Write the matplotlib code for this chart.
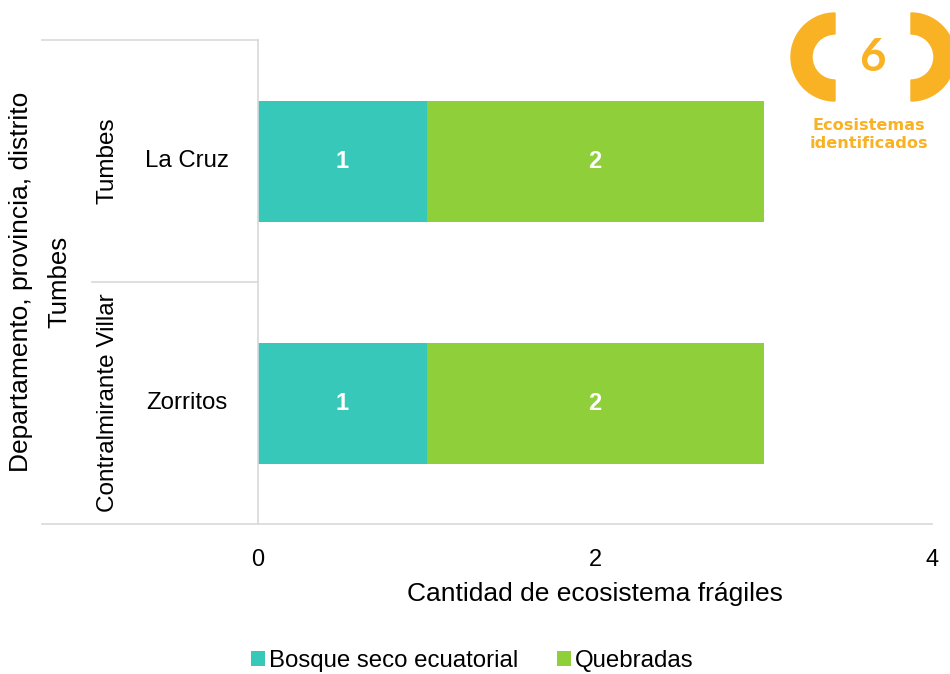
import matplotlib

matplotlib.use("Agg")
import matplotlib.pyplot as plt
from matplotlib.lines import Line2D
from matplotlib.patches import Wedge

plt.rcParams["font.family"] = ["Liberation Sans", "DejaVu Sans"]

districts = ["La Cruz", "Zorritos"]
provinces = ["Tumbes", "Contralmirante Villar"]
department = "Tumbes"
series_names = ["Bosque seco ecuatorial", "Quebradas"]
bosque = [1, 1]
quebradas = [2, 2]
x_ticks = [0, 2, 4]
total_label = "6"

colors = ["#37C8BA", "#8ECF3A"]
grid_col = "#D9D9D9"
logo_col = "#F9B224"

W, H = 950, 674
fig = plt.figure(figsize=(W / 100, H / 100), dpi=100)
ax = fig.add_axes([258 / W, (H - 524) / H, (932 - 258) / W, (524 - 40) / H])

ypos = [1, 0]
ax.barh(ypos, bosque, height=0.5, color=colors[0], label=series_names[0])
ax.barh(ypos, quebradas, left=bosque, height=0.5, color=colors[1], label=series_names[1])

for y, b, q in zip(ypos, bosque, quebradas):
    ax.text(b / 2, y, str(b), ha="center", va="center", color="white", fontsize=17, fontweight="bold")
    ax.text(b + q / 2, y, str(q), ha="center", va="center", color="white", fontsize=17, fontweight="bold")

ax.set_xlim(0, 4)
ax.set_ylim(-0.5, 1.5)
ax.set_xticks(x_ticks)
ax.set_xticklabels([str(t) for t in x_ticks], fontsize=17)
ax.tick_params(axis="x", length=0, pad=18)
ax.set_yticks([])
for side in ["top", "right"]:
    ax.spines[side].set_visible(False)
for side in ["left", "bottom"]:
    ax.spines[side].set_color(grid_col)
    ax.spines[side].set_linewidth(1.2)
ax.set_xlabel("Cantidad de ecosistema frágiles", fontsize=19, labelpad=8)

# hierarchical category labels
tr = ax.get_yaxis_transform()
for y, d, p in zip(ypos, districts, provinces):
    ax.text(-0.105, y, d, transform=tr, ha="center", va="center", fontsize=17.3)
    ax.text(-0.223, y, p, transform=tr, ha="center", va="center", rotation=90, fontsize=17.5)
ax.text(-0.294, 0.5, department, transform=tr, ha="center", va="center", rotation=90, fontsize=18.5)
ax.text(-0.352, 0.5, "Departamento, provincia, distrito", transform=tr, ha="center", va="center",
        rotation=90, fontsize=19)

for x0, y in [(-0.3205, 1.0), (-0.246, 0.5), (-0.3205, 0.0)]:
    ax.add_line(Line2D([x0, 0], [y, y], transform=ax.transAxes, color=grid_col, lw=1.2, clip_on=False))

fig.legend(loc="center", bbox_to_anchor=(472 / W, 1 - 661 / H), ncol=2, frameon=False, fontsize=17.3,
           handlelength=0.6, handleheight=0.6, handletextpad=0.15, columnspacing=1.6)

# logo
lax = fig.add_axes([0, 0, 1, 1], facecolor="none")
lax.set_xlim(0, W)
lax.set_ylim(H, 0)
lax.axis("off")
lax.add_patch(Wedge((835, 57), 44, 90, 270, width=21, color=logo_col))
lax.add_patch(Wedge((911, 57), 44, -90, 90, width=21, color=logo_col))
lax.text(872, 58, total_label, ha="center", va="center", fontsize=33, fontweight="bold",
         color=logo_col, family=["Lato", "DejaVu Sans"])
lax.text(869, 125, "Ecosistemas", ha="center", va="center", fontsize=11.6, fontweight="bold",
         color=logo_col, family=["DejaVu Sans"])
lax.text(869, 143, "identificados", ha="center", va="center", fontsize=11.6, fontweight="bold",
         color=logo_col, family=["DejaVu Sans"])

fig.savefig("out.png", dpi=100)
